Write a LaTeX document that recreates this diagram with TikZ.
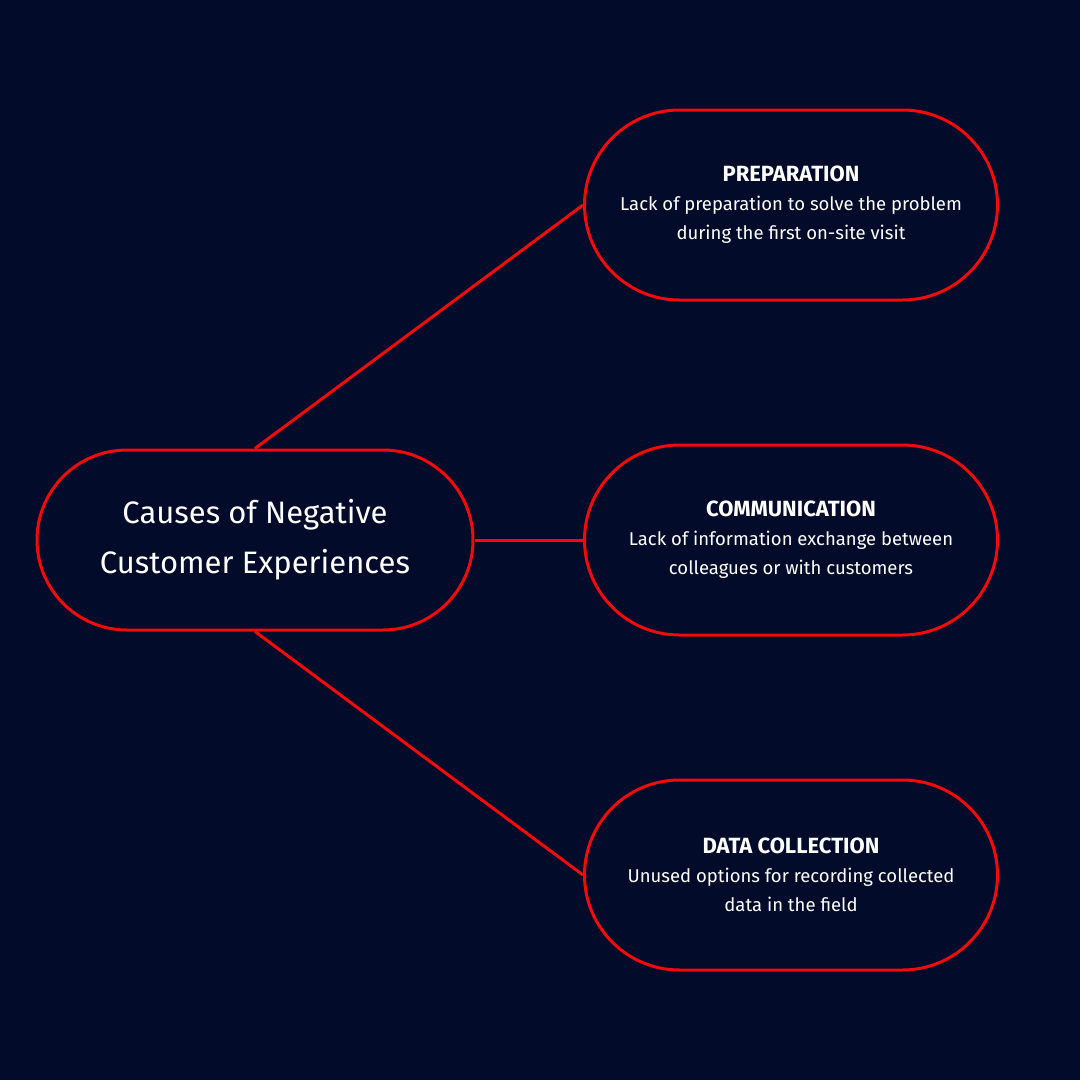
\documentclass[tikz,border=0pt]{standalone}
\usepackage{fontspec}
\setmainfont{Fira Sans}
\begin{document}
\definecolor{bg}{HTML}{020B2A}
\definecolor{rd}{HTML}{F40A0A}
\begin{tikzpicture}[x=1pt,y=-1pt,
  stad/.style={draw=rd,line width=3pt,fill=bg,text=white,align=center,inner sep=0pt},
  big/.style={stad,minimum width=436pt,minimum height=180pt,rounded corners=90pt,font=\fontsize{31}{50}\selectfont},
  side/.style={stad,minimum width=413pt,minimum height=190pt,rounded corners=95pt,font=\fontsize{18.5}{29}\selectfont},
  head/.style={font=\fontsize{22}{29}\selectfont\bfseries},
  link/.style={draw=rd,line width=3pt}]
\fill[bg] (0,0) rectangle (1080,1080);
\useasboundingbox (0,0) rectangle (1080,1080);
\node[big] (c) at (255,540) {Causes of Negative\\Customer Experiences};
\node[side] (p) at (791,205) {{\fontsize{22}{29}\selectfont\bfseries PREPARATION}\\Lack of preparation to solve the problem\\during the first on-site visit};
\node[side] (m) at (791,540) {{\fontsize{22}{29}\selectfont\bfseries COMMUNICATION}\\Lack of information exchange between\\colleagues or with customers};
\node[side] (d) at (791,875) {{\fontsize{22}{29}\selectfont\bfseries DATA COLLECTION}\\Unused options for recording collected\\data in the field};
\begin{scope}[on background layer/.style={}]
\end{scope}
\draw[link] (c.north) -- (p.west);
\draw[link] (c.east) -- (m.west);
\draw[link] (c.south) -- (d.west);
\end{tikzpicture}
\end{document}
